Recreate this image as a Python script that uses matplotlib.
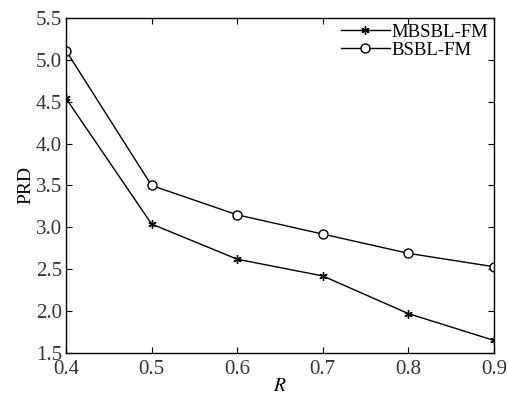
import numpy as np
import matplotlib
matplotlib.use("Agg")
import matplotlib.pyplot as plt

plt.rcParams['font.family'] = ['Liberation Serif', 'DejaVu Serif']
plt.rcParams['mathtext.fontset'] = 'stix'

# data
R = [0.4, 0.5, 0.6, 0.7, 0.8, 0.9]
prd_mbsbl = [4.54, 3.04, 2.62, 2.42, 1.97, 1.65]
prd_bsbl = [5.11, 3.50, 3.15, 2.92, 2.69, 2.53]
yticks = [1.5, 2.0, 2.5, 3.0, 3.5, 4.0, 4.5, 5.0, 5.5]

fig = plt.figure(figsize=(5.08, 3.94), dpi=100)
ax = fig.add_axes([66 / 508, 1 - 353 / 394, (494 - 66) / 508, (353 - 18) / 394])

ax.plot(R, prd_mbsbl, '-', color='black', lw=1.0, marker=(6, 2, 0), ms=6,
        mew=1.0, label='MBSBL-FM')
ax.plot(R, prd_bsbl, '-', color='black', lw=1.0, marker='o', ms=6.5,
        mfc='white', mew=1.0, label='BSBL-FM')

ax.set_xlim(0.4, 0.9)
ax.set_ylim(1.5, 5.5)
ax.set_xticks(R)
ax.set_yticks(yticks)
ax.set_yticklabels([f'{v:.1f}' for v in yticks])
ax.tick_params(direction='in', top=True, right=True, labelsize=15, length=4,
               width=0.8, labelcolor='#333333')
ax.tick_params(axis='y', pad=3)
ax.tick_params(axis='x', pad=5)
for s in ax.spines.values():
    s.set_linewidth(1.0)
ax.set_xlabel('$R$', fontsize=14, labelpad=-1)
ax.set_ylabel('PRD', fontsize=14, labelpad=1)

ax.legend(loc='upper right', frameon=False, fontsize=13.5, handlelength=2.6,
          handletextpad=0.1, borderaxespad=0.1, labelspacing=0.05,
          borderpad=0.2)

fig.savefig('out.png', dpi=100)
